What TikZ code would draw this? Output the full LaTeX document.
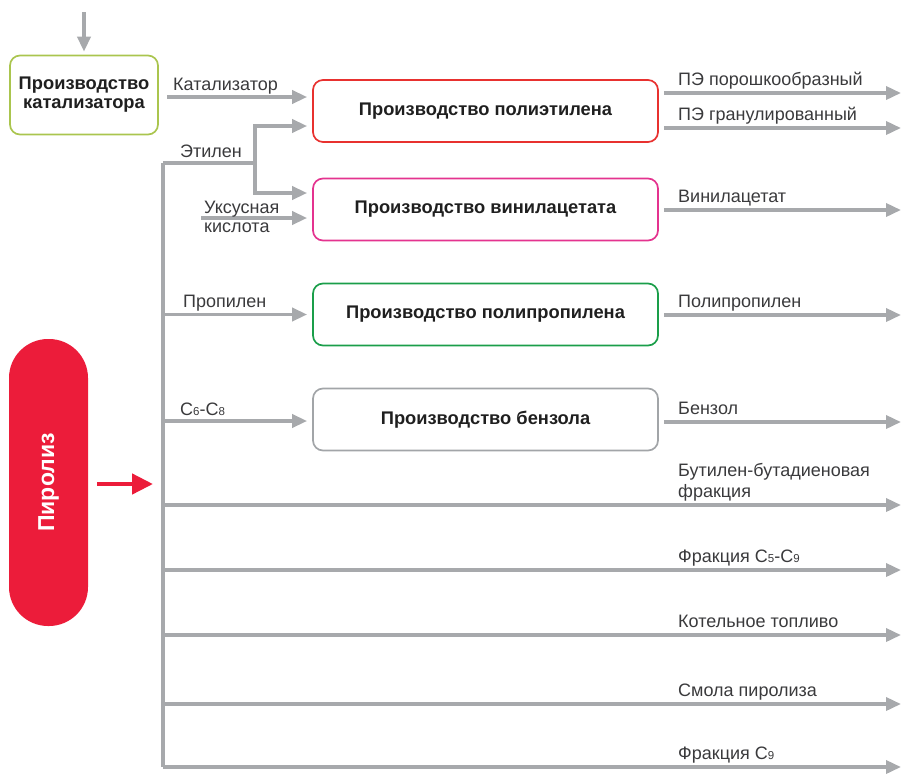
\documentclass[tikz,border=0pt]{standalone}
\usepackage{fontspec}
\setmainfont{Liberation Sans}
\usetikzlibrary{arrows.meta}

\definecolor{flowgray}{HTML}{A7A9AC}
\definecolor{catgreen}{HTML}{AAC54E}
\definecolor{pered}{HTML}{E8312F}
\definecolor{vapink}{HTML}{E4338F}
\definecolor{ppgreen}{HTML}{1A9E4A}
\definecolor{bzgray}{HTML}{A2A5A8}
\definecolor{pyrored}{HTML}{EC1C3A}
\definecolor{labelgray}{HTML}{3A3A3C}

\newcommand{\ix}[1]{{\fontsize{11.5}{11.5}\selectfont #1}}

\tikzset{
  pipe/.style={draw=flowgray, line width=3.5pt},
  flow/.style={pipe, -{Triangle[length=15pt,width=13pt]}, shorten >=5pt},
  product/.style={pipe, -{Triangle[length=15pt,width=13pt]}, shorten <=5pt},
  plant/.style={draw, rounded corners=10pt, line width=1.7pt, minimum width=345pt,
    minimum height=62pt, font=\bfseries\fontsize{18.3}{21}\selectfont, text=black!88},
  lbl/.style={font=\fontsize{18}{20}\selectfont, text=labelgray, inner sep=0pt,
    anchor=base west, align=left},
}

\begin{document}
\begin{tikzpicture}[x=1pt, y=-1pt]
  \useasboundingbox (0,0) rectangle (901,774);

  % boxes
  \node[plant, draw=catgreen, minimum width=148pt, minimum height=79pt, align=center] (cat) at (84,95) {Производство\\[-2pt]катализатора};
  \node[plant, draw=pered] (pe) at (485.5,111) {Производство полиэтилена};
  \node[plant, draw=vapink] (va) at (485.5,209.5) {Производство винилацетата};
  \node[plant, draw=ppgreen] (pp) at (485.5,314.5) {Производство полипропилена};
  \node[plant, draw=bzgray] (bz) at (485.5,419.5) {Производство бензола};
  \node[fill=pyrored, rounded corners=39pt, rotate=90, minimum width=287pt, minimum height=79pt,
    text=white, font=\bfseries\fontsize{23}{26}\selectfont] (pyr) at (48.5,482.5) {Пиролиз};

  % free ends
  \coordinate (feed) at (84,12);
  \coordinate (catout) at (167,97);
  \coordinate (acid) at (201,218);
  \coordinate (eth) at (255,163);
  \coordinate (top) at (163,163);
  \coordinate (bottom) at (163,767);
  \coordinate (pyrout) at (97,484);
  \coordinate (pyrin) at (153,484);

  % inputs
  \draw[flow, shorten >=3pt] (feed) -- (cat);
  \draw[flow] (catout) -- (catout -| pe.west);
  \draw[pipe] (top) -- (eth);
  \draw[flow] (eth) |- ([yshift=-15pt]pe.west);
  \draw[flow] (eth) |- ([yshift=16.5pt]va.west);
  \draw[flow] (acid) -- (acid -| va.west);
  \draw[flow] (top |- pp.west) -- (pp.west);
  \draw[flow] (top |- 0,421) -- (bz.west |- 0,421);
  \draw[pipe] (top) -- (bottom);
  \draw[draw=pyrored, line width=4.5pt, -{Triangle[length=21pt,width=20pt]}] (pyrout) -- (pyrin);

  \node[lbl] (lcat) at (173,90) {Катализатор};
  \node[lbl] (leth) at (180,157) {Этилен};
  \node[lbl, align=left] (lacid) at (204,213) {Уксусная};
  \node[lbl] (lacid2) at (204,232) {кислота};
  \node[lbl] (lpp) at (183,307) {Пропилен};
  \node[lbl] (lc68) at (180,415) {C\ix6-C\ix8};

  % products
  \foreach \y/\src/\txt in {93/pe/{ПЭ порошкообразный}, 128/pe/{ПЭ гранулированный},
      210/va/{Винилацетат}, 315/pp/{Полипропилен}, 422/bz/{Бензол}} {
    \coordinate (out\y) at (901,\y);
    \draw[product] (\src.east |- out\y) -- (out\y);
    \node[lbl] at (678,\y-8) {\txt};
  }
  \foreach \y/\txt in {505/{фракция}, 570/{Фракция C\ix5-C\ix9}, 635/{Котельное топливо},
      704/{Смола пиролиза}, 767/{Фракция C\ix9}} {
    \coordinate (out\y) at (901,\y);
    \draw[product, shorten <=0pt] (top |- out\y) -- (out\y);
    \node[lbl] at (678,\y-8) {\txt};
  }
  \node[lbl] at (678,476) {Бутилен-бутадиеновая};
\end{tikzpicture}
\end{document}
